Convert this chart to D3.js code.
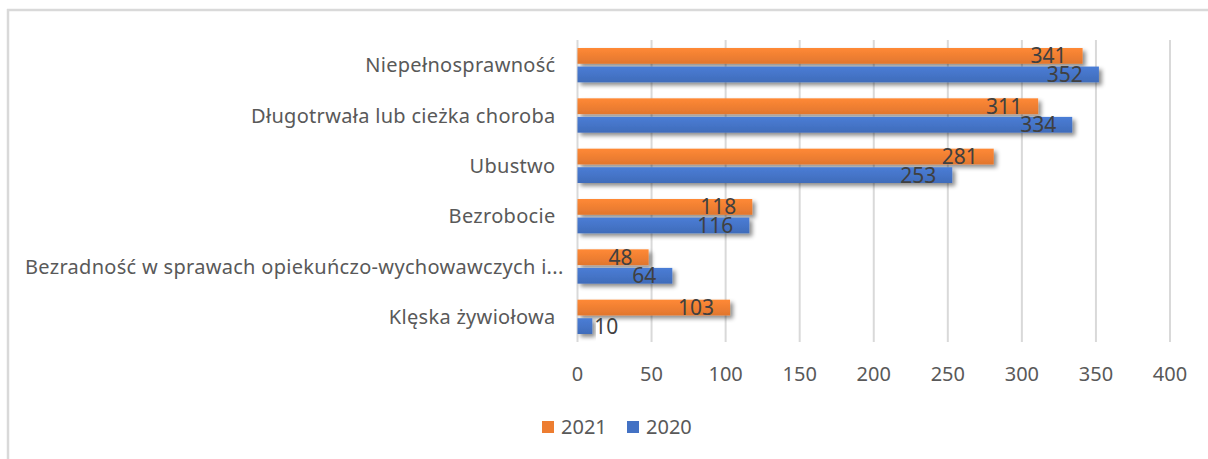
<!DOCTYPE html>
<html>
<head>
<meta charset="utf-8">
<script src="https://cdn.jsdelivr.net/npm/d3@7"></script>
<style>
  body { margin: 0; background: #fff; }
  svg { display: block; font-family: "Noto Sans", "Liberation Sans", sans-serif; }
</style>
</head>
<body>
<svg id="chart" width="1208" height="459"></svg>
<script>
// data
var categories = ["Niepełnosprawność", "Długotrwała lub cieżka choroba", "Ubustwo",
                  "Bezrobocie", "Bezradność w sprawach opiekuńczo-wychowawczych i...", "Klęska żywiołowa"];
var series = ["2021", "2020"];
var values2021 = [341, 311, 281, 118, 48, 103];
var values2020 = [352, 334, 253, 116, 64, 10];
var ticks = [0, 50, 100, 150, 200, 250, 300, 350, 400];
var colors = {"2021": "#ED7D31", "2020": "#4472C4"};

var svg = d3.select("#chart");
var width = 1208, height = 459;

var x = d3.scaleLinear().domain([0, 400]).range([577.5, 1170]);
var y = d3.scaleBand().domain(categories).range([40, 342]);
var y1 = d3.scaleBand().domain(series).range([8, y.bandwidth() - 8]).paddingInner(0.15);

var rows = categories.map(function(c, i) {
  return {cat: c, vals: [{s: "2021", v: values2021[i]}, {s: "2020", v: values2020[i]}]};
});

var defs = svg.append("defs");
var f = defs.append("filter").attr("id", "shadow")
  .attr("x", "-10%").attr("y", "-50%").attr("width", "130%").attr("height", "250%");
f.append("feDropShadow").attr("dx", 3).attr("dy", 3).attr("stdDeviation", 2)
  .attr("flood-color", "#000").attr("flood-opacity", 0.45);

series.forEach(function(s) {
  var g = defs.append("linearGradient").attr("id", "grad" + s)
    .attr("x1", 0).attr("y1", 0).attr("x2", 0).attr("y2", 1);
  var base = d3.color(colors[s]);
  g.append("stop").attr("offset", "0%").attr("stop-color", base.brighter(0.25));
  g.append("stop").attr("offset", "100%").attr("stop-color", base.darker(0.15));
});

// frame (top and left edges of the cropped chart area)
svg.append("line").attr("x1", 7).attr("x2", width).attr("y1", 10).attr("y2", 10)
  .attr("stroke", "#d9d9d9").attr("stroke-width", 2.5);
svg.append("line").attr("x1", 8).attr("x2", 8).attr("y1", 9).attr("y2", height)
  .attr("stroke", "#d9d9d9").attr("stroke-width", 2.5);

// gridlines
svg.append("g").selectAll("line").data(ticks).enter().append("line")
  .attr("x1", function(d) { return x(d); })
  .attr("x2", function(d) { return x(d); })
  .attr("y1", 40).attr("y2", 342)
  .attr("stroke", "#d9d9d9").attr("stroke-width", 2);

// tick labels
svg.append("g").selectAll("text").data(ticks).enter().append("text")
  .attr("x", function(d) { return x(d); })
  .attr("y", 381)
  .attr("text-anchor", "middle")
  .attr("font-size", 20)
  .attr("fill", "#595959")
  .text(function(d) { return d; });

// category labels
var catLabels = svg.append("g").selectAll("text").data(categories).enter().append("text")
  .attr("x", x(0) - 22)
  .attr("y", function(d) { return y(d) + y.bandwidth() / 2; })
  .attr("dy", "0.35em")
  .attr("text-anchor", "end")
  .attr("font-size", 20)
  .attr("letter-spacing", "0.3px")
  .attr("fill", "#595959")
  .text(function(d) { return d; });

catLabels.each(function() {
  var w = this.getComputedTextLength();
  if (x(0) - 22 - w < 25) {
    d3.select(this).attr("text-anchor", "start").attr("x", 25);
  }
});

// bars
var groups = svg.append("g").selectAll("g").data(rows).enter().append("g")
  .attr("transform", function(d) { return "translate(0," + y(d.cat) + ")"; });

groups.selectAll("rect").data(function(d) { return d.vals; }).enter().append("rect")
  .attr("x", x(0))
  .attr("y", function(d) { return y1(d.s); })
  .attr("width", function(d) { return x(d.v) - x(0); })
  .attr("height", y1.bandwidth())
  .attr("fill", function(d) { return "url(#grad" + d.s + ")"; })
  .attr("filter", "url(#shadow)");

// value labels
groups.selectAll("text").data(function(d) { return d.vals; }).enter().append("text")
  .attr("y", function(d) { return y1(d.s) + y1.bandwidth() / 2; })
  .attr("dy", "0.36em")
  .attr("font-size", 21)
  .attr("fill", "#404040")
  .text(function(d) { return d.v; })
  .each(function(d) {
    var w = this.getComputedTextLength();
    var end = x(d.v);
    if (end - x(0) < w + 20) {
      d3.select(this).attr("text-anchor", "start").attr("x", end + 2);
    } else {
      d3.select(this).attr("text-anchor", "end").attr("x", end - 16);
    }
  });

// legend
var legend = svg.append("g").attr("transform", "translate(542,421)");
var lx = [0, 85];
series.forEach(function(s, i) {
  legend.append("rect").attr("x", lx[i]).attr("y", 0).attr("width", 12).attr("height", 12)
    .attr("fill", colors[s]);
  legend.append("text").attr("x", lx[i] + 19).attr("y", 6).attr("dy", "0.36em")
    .attr("font-size", 20).attr("fill", "#595959").text(s);
});
</script>
</body>
</html>
